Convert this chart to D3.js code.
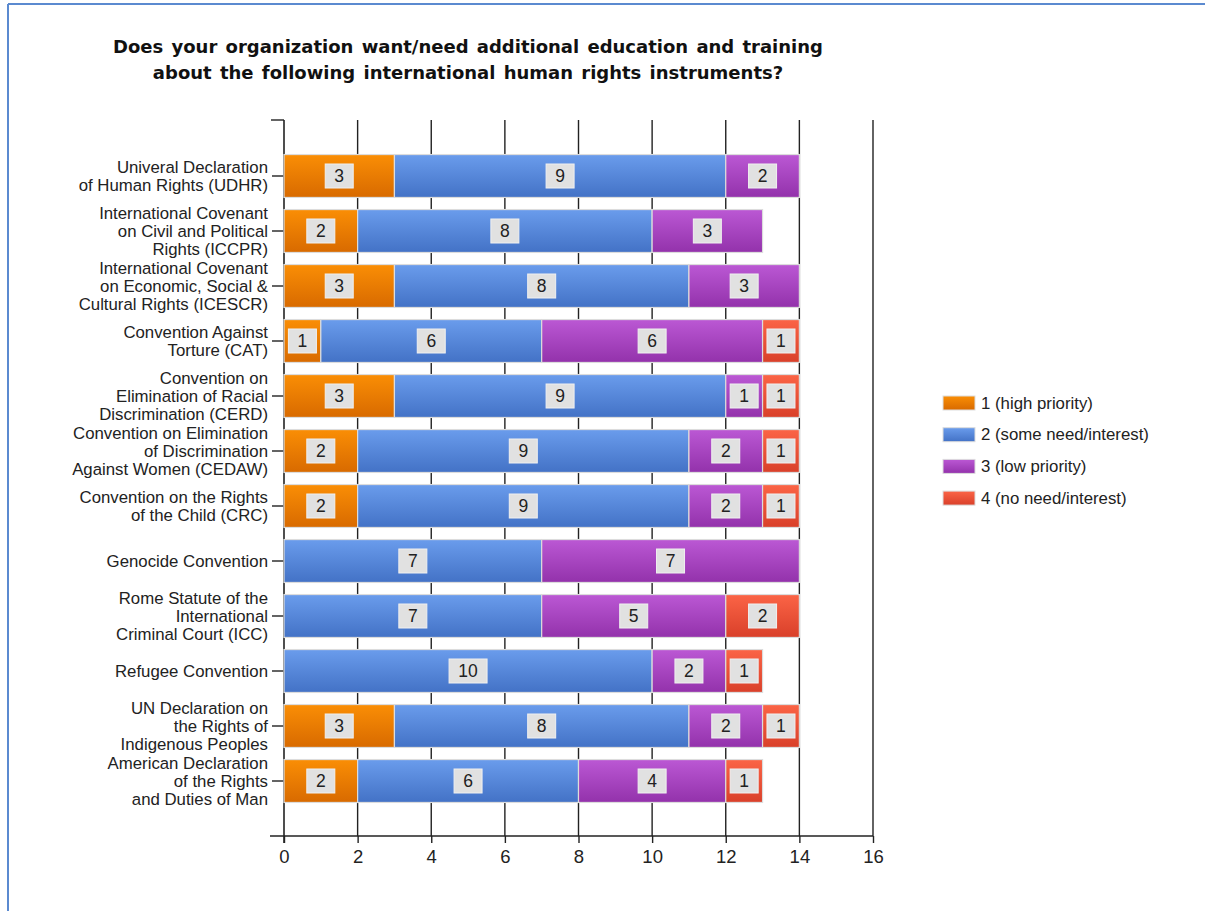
<!DOCTYPE html>
<html><head><meta charset="utf-8">
<script src="https://cdn.jsdelivr.net/npm/d3@7"></script>
<style>body{margin:0;background:#fff}svg{display:block}</style>
</head><body>
<svg id="c" width="1205" height="911"></svg>
<script>
const titleLines = ["Does your organization want/need additional education and training",
                    "about the following international human rights instruments?"];
const categories = [
  ["Univeral Declaration","of Human Rights (UDHR)"],
  ["International Covenant","on Civil and Political","Rights (ICCPR)"],
  ["International Covenant","on Economic, Social &","Cultural Rights (ICESCR)"],
  ["Convention Against","Torture (CAT)"],
  ["Convention on","Elimination of Racial","Discrimination (CERD)"],
  ["Convention on Elimination","of Discrimination","Against Women (CEDAW)"],
  ["Convention on the Rights","of the Child (CRC)"],
  ["Genocide Convention"],
  ["Rome Statute of the","International","Criminal Court (ICC)"],
  ["Refugee Convention"],
  ["UN Declaration on","the Rights of","Indigenous Peoples"],
  ["American Declaration","of the Rights","and Duties of Man"]
];
const seriesNames = ["1 (high priority)","2 (some need/interest)","3 (low priority)","4 (no need/interest)"];
const highPriority = [3,2,3,1,3,2,2,0,0,0,3,2];
const someNeed     = [9,8,8,6,9,9,9,7,7,10,8,6];
const lowPriority  = [2,3,3,6,1,2,2,7,5,2,2,4];
const noNeed       = [0,0,0,1,1,1,1,0,2,1,1,1];
const xTicks = [0,2,4,6,8,10,12,14,16];
const seriesColors = [["#fa8e05","#d86a00"],["#6a9cec","#4372c6"],["#bb58d4","#9332ab"],["#fb6446","#d9402a"]];

const series = [highPriority, someNeed, lowPriority, noNeed];
const FONT = "Liberation Sans Narrow, Liberation Sans, Arial, sans-serif";
const svg = d3.select("#c");
const defs = svg.append("defs");
seriesColors.forEach((c,i)=>{
  const g = defs.append("linearGradient").attr("id","g"+i).attr("x1",0).attr("x2",0).attr("y1",0).attr("y2",1);
  g.append("stop").attr("offset","0%").attr("stop-color",c[0]);
  g.append("stop").attr("offset","100%").attr("stop-color",c[1]);
});

// frame
svg.append("line").attr("x1",8).attr("x2",1205).attr("y1",4).attr("y2",4).attr("stroke","#5b8ad0").attr("stroke-width",2);
svg.append("line").attr("x1",8).attr("x2",8).attr("y1",4).attr("y2",911).attr("stroke","#5b8ad0").attr("stroke-width",2);

// title
svg.append("g").selectAll("text").data(titleLines).join("text")
  .attr("x",468).attr("y",(d,i)=>53+i*26).attr("text-anchor","middle")
  .attr("font-family","DejaVu Sans, Verdana, sans-serif").attr("font-weight","bold")
  .attr("font-size",18).attr("fill","#111").attr("word-spacing",2).text(d=>d);

const x = d3.scaleLinear().domain([0,16]).range([284,873]);
const y = d3.scaleBand().domain(d3.range(categories.length)).range([148.5,808.5]).paddingInner(0.22).paddingOuter(0.11);
const yTop = 120, yBot = 836;

// gridlines
svg.append("g").selectAll("line").data(xTicks.filter(d=>d>0)).join("line")
  .attr("x1",d=>x(d)).attr("x2",d=>x(d)).attr("y1",yTop).attr("y2",yBot)
  .attr("stroke","#222").attr("stroke-width",1.4);

// x axis
const xAxis = svg.append("g").attr("transform",`translate(0,${yBot})`)
  .call(d3.axisBottom(x).tickValues(xTicks).tickSize(7).tickSizeOuter(0).tickPadding(7));
xAxis.select(".domain").remove();
xAxis.selectAll(".tick line").attr("stroke","#222").attr("stroke-width",1.4);
xAxis.selectAll(".tick text").attr("font-family",FONT).attr("font-size",18.5).attr("fill","#222");
svg.append("line").attr("x1",270).attr("x2",873).attr("y1",yBot).attr("y2",yBot).attr("stroke","#222").attr("stroke-width",1.6);

// y axis
svg.append("line").attr("x1",284).attr("x2",284).attr("y1",yTop).attr("y2",yBot+7).attr("stroke","#222").attr("stroke-width",1.6);
svg.append("line").attr("x1",271).attr("x2",284).attr("y1",yTop).attr("y2",yTop).attr("stroke","#222").attr("stroke-width",1.4);
const yg = svg.append("g");
categories.forEach((lines,i)=>{
  const cy = y(i)+y.bandwidth()/2;
  yg.append("line").attr("x1",272).attr("x2",284).attr("y1",cy).attr("y2",cy).attr("stroke","#222").attr("stroke-width",1.4);
  const t = yg.append("text").attr("text-anchor","end")
    .attr("font-family",FONT).attr("font-size",16.8).attr("fill","#222");
  lines.forEach((l,j)=>{
    t.append("tspan").attr("x",268).attr("y",cy + (j-(lines.length-1)/2)*18 + 5.5).text(l);
  });
});

// bars
const stacked = categories.map((c,i)=>{
  let acc=0; return series.map((s,k)=>{const v=s[i]; const seg={i,k,v,x0:acc,x1:acc+v}; acc+=v; return seg;});
}).flat().filter(d=>d.v>0);

const bars = svg.append("g");
bars.selectAll("rect").data(stacked).join("rect")
  .attr("x",d=>x(d.x0)).attr("width",d=>x(d.x1)-x(d.x0))
  .attr("y",d=>y(d.i)).attr("height",y.bandwidth())
  .attr("fill",d=>`url(#g${d.k})`).attr("stroke","#dcdcdc").attr("stroke-width",1.2);

const lbl = svg.append("g").selectAll("g").data(stacked).join("g")
  .attr("transform",d=>`translate(${(x(d.x0)+x(d.x1))/2},${y(d.i)+y.bandwidth()/2})`);
lbl.append("rect").attr("x",d=>d.v>=10?-19:-14).attr("width",d=>d.v>=10?38:28)
  .attr("y",-12).attr("height",24).attr("fill","#e1e1e1").attr("stroke","#f0f0f0");
lbl.append("text").attr("text-anchor","middle").attr("y",6)
  .attr("font-family",FONT).attr("font-size",17.5).attr("fill","#222")
  .text(d=>d.v);

// legend
const lg = svg.append("g").selectAll("g").data(seriesNames).join("g")
  .attr("transform",(d,i)=>`translate(943,${403+i*31.7})`);
lg.append("rect").attr("x",0).attr("y",-7).attr("width",32).attr("height",14).attr("fill",(d,i)=>`url(#g${i})`).attr("stroke","#ddd");
lg.append("text").attr("x",38).attr("y",5.5).attr("font-family",FONT)
  .attr("font-size",16.8).attr("fill","#222").text(d=>d);
</script>
</body></html>
